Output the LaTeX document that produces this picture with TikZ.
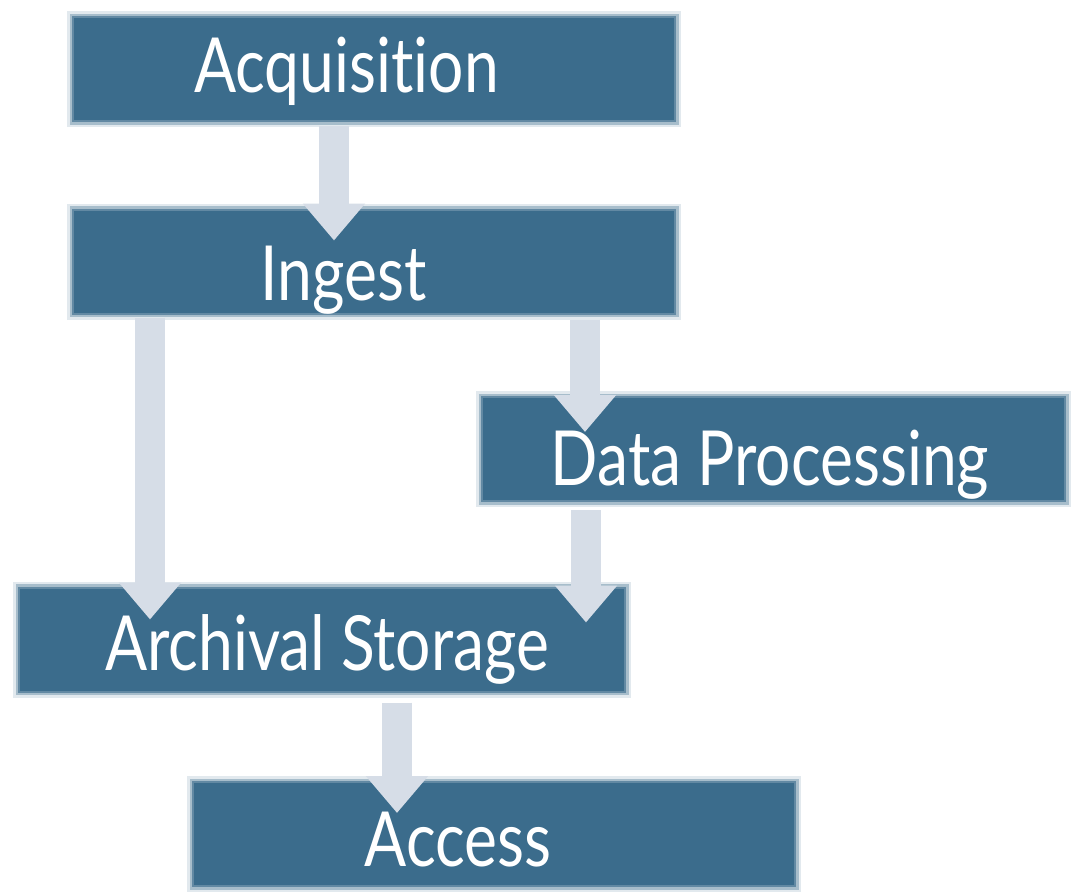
\documentclass[tikz,border=0pt]{standalone}
\usepackage{fontspec}
\setmainfont{Lato}[FakeStretch=0.82,Ligatures={NoCommon}]
\usetikzlibrary{arrows.meta,positioning,calc}
\definecolor{stageblue}{RGB}{59,108,140}
\definecolor{flowgray}{RGB}{214,221,231}
\tikzset{stage/.style={
            fill=stageblue,
            draw=stageblue!80,
            line width=2pt,
            preaction={draw=stageblue!15,line width=12pt},
            preaction={draw=stageblue!45,line width=7pt},
            inner sep=0pt,
            minimum height=104pt
        },
        flow/.style={
            draw=flowgray,
            line width=30pt,
            -{Triangle[width=60pt,length=37pt]}
        },
        lbl/.style={
            text=white,
            anchor=base,
            inner sep=0pt,
            font=\fontsize{76}{90}\selectfont
        }
    }
\begin{document}
\begin{tikzpicture}[x=1pt,y=-1pt]
\useasboundingbox[fill=white] (0,0) rectangle (1075,894);
\node[stage,minimum width=602pt] (acq) at (374,69) {};
\node[stage,minimum width=602pt] (ingest) at (374,261.5) {};
\node[stage,minimum width=583pt] (proc) at (773.5,449) {};
\node[stage,minimum width=606pt] (arch) at (322,639.5) {};
\node[stage,minimum width=602pt] (access) at (494,834) {};
\draw[flow] ([xshift=-40pt,yshift=-4pt]acq.south) -- ([xshift=-40pt,yshift=-32pt]ingest.north);
\draw[flow] ([xshift=-224pt,yshift=-3pt]ingest.south) -- ([xshift=-172pt,yshift=-33pt]arch.north);
\draw[flow] ([xshift=211pt,yshift=-5pt]ingest.south) -- ([xshift=-188.5pt,yshift=-36pt]proc.north);
\draw[flow] ([xshift=-187.5pt,yshift=-8pt]proc.south) -- ([xshift=264pt,yshift=-36pt]arch.north);
\draw[flow] ([xshift=75pt,yshift=-10pt]arch.south) -- ([xshift=-97pt,yshift=-32pt]access.north);
\node[lbl] (acqtxt) at (346.5,92) {Acquisition};
\node[lbl] (ingesttxt) at (343.5,300) {Ingest};
\node[lbl] (proctxt) at (770,485) {Data Processing};
\node[lbl] (archtxt) at (327,670) {Archival Storage};
\node[lbl] (accesstxt) at (458,866) {Access};
\end{tikzpicture}
\end{document}
